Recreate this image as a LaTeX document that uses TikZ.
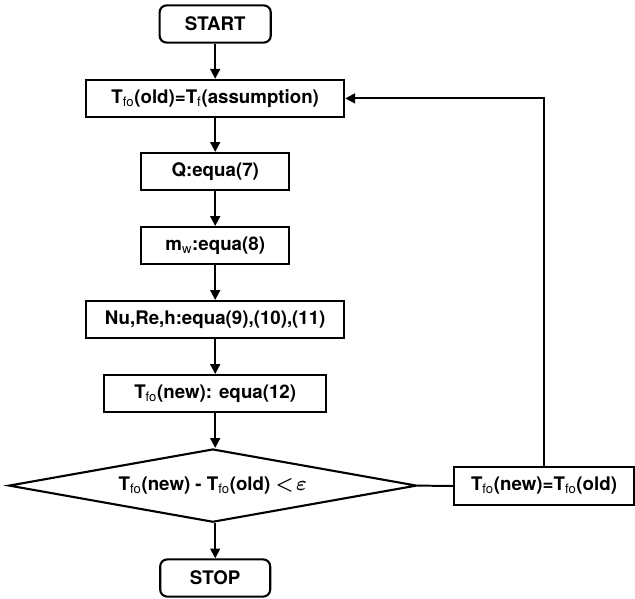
\documentclass[tikz,border=0pt]{standalone}
\usepackage{fontspec}
\setmainfont{TeX Gyre Heros}
\usepackage{tikz}
\usetikzlibrary{shapes, arrows, positioning, calc, arrows.meta}

\newcommand{\lowtxt}[1]{\textsubscript{\mdseries #1}}

\begin{document}
\begin{tikzpicture}[
        font=\fontsize{13.3}{15}\selectfont\bfseries,
        box/.style={rectangle, draw=black, fill=white, line width=1.5pt, align=center, minimum height=0.93cm, inner sep=2pt},
        term/.style={box, rounded corners=5pt, minimum height=0.93cm},
        decision/.style={diamond, draw=black, fill=white, line width=1.5pt, align=center, shape aspect=5.5, minimum width=10.2cm, minimum height=1.83cm, inner sep=0pt},
        arrow/.style={-{Triangle[length=7pt, width=7pt]}, line width=1.4pt}
    ]
        \useasboundingbox (0, 0) rectangle (15.875, 14.95);

        % Start / stop
        \node[term, minimum width=2.78cm] (start) at (5.38, 14.35) {START};
        \node[term, minimum width=2.75cm] (stop) at (5.38, 0.50) {STOP};

        % Main chain
        \node[box, minimum width=6.45cm] (old) at (5.38, 12.49) {T\lowtxt{fo}(old)=T\lowtxt{f}(assumption)};
        \node[box, minimum width=3.7cm] (heat) at (5.38, 10.66) {Q:equa(7)};
        \node[box, minimum width=3.7cm] (mass) at (5.38, 8.81) {m\lowtxt{w}:equa(8)};
        \node[box, minimum width=6.45cm] (coef) at (5.38, 6.96) {Nu,Re,h:equa(9),(10),(11)};
        \node[box, minimum width=5.55cm] (new) at (5.38, 5.11) {T\lowtxt{fo}(new): equa(12)};

        % Check
        \node[decision] (check) at (5.32, 2.81) {T\lowtxt{fo}(new) - T\lowtxt{fo}(old) {\boldmath$<\!\varepsilon$}};
        \node[box, minimum width=4.5cm] (upd) at (13.6, 2.80) {T\lowtxt{fo}(new)=T\lowtxt{fo}(old)};

        % Arrows
        \draw[arrow] (start) -- (old);
        \draw[arrow] (old) -- (heat);
        \draw[arrow] (heat) -- (mass);
        \draw[arrow] (mass) -- (coef);
        \draw[arrow] (coef) -- (new);
        \draw[arrow] (new) -- (check.north -| new.south);
        \draw[arrow] (check.south -| stop.north) -- (stop);
        \draw[line width=1.4pt] (check.east) -- (upd.west);
        \draw[arrow] (upd.north) |- (old.east);

    \end{tikzpicture}
\end{document}
